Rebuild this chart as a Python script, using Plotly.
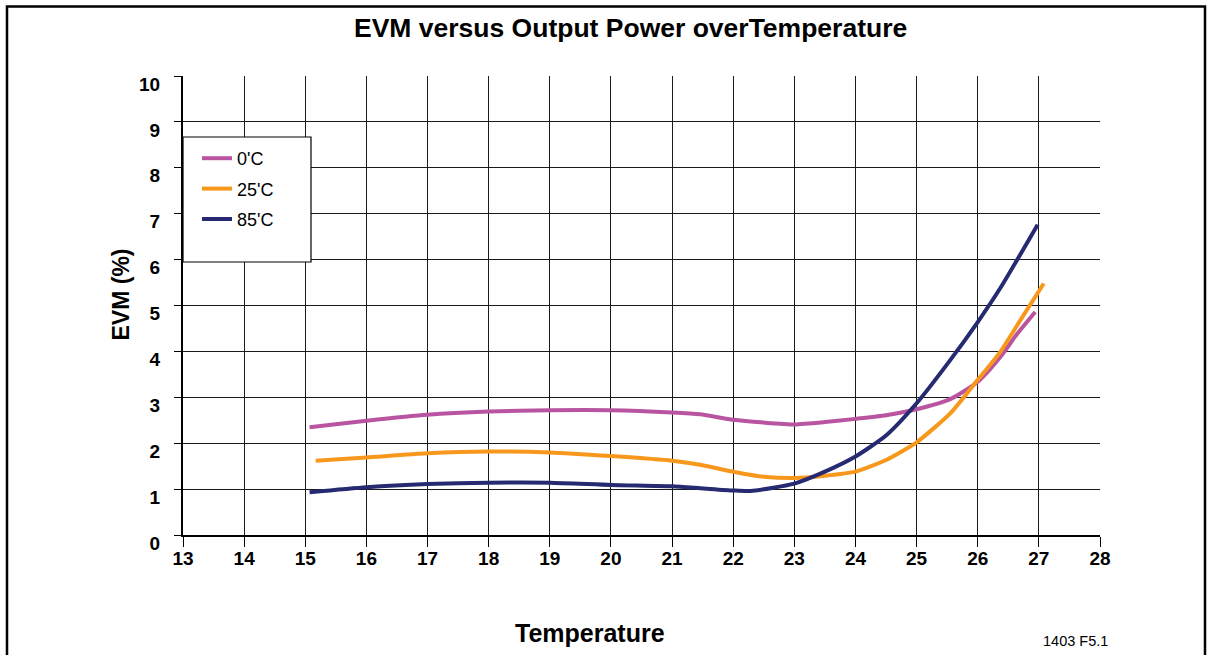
import plotly.graph_objects as go

# ---- data ----
x_0c = [15.07, 16, 17, 18, 19, 20, 21, 21.46, 22, 22.5, 23, 23.5, 24, 24.5, 25, 25.55, 26, 26.37, 26.65, 26.94]
y_0c = [2.35, 2.49, 2.62, 2.69, 2.72, 2.72, 2.67, 2.63, 2.51, 2.45, 2.41, 2.46, 2.53, 2.61, 2.74, 2.96, 3.34, 3.88, 4.39, 4.86]

x_25c = [15.17, 16, 17, 18, 19, 20, 21, 21.46, 22, 22.5, 23, 23.5, 24, 24.51, 25, 25.55, 26, 26.37, 26.67, 27.08]
y_25c = [1.62, 1.69, 1.78, 1.82, 1.80, 1.72, 1.62, 1.53, 1.38, 1.27, 1.24, 1.29, 1.38, 1.64, 2.02, 2.65, 3.38, 3.99, 4.62, 5.48]

x_85c = [15.07, 16, 17, 18, 19, 20, 21, 21.46, 22, 22.28, 23, 23.5, 24, 24.51, 25, 25.55, 26, 26.37, 26.98]
y_85c = [0.93, 1.04, 1.11, 1.14, 1.14, 1.09, 1.06, 1.02, 0.97, 0.96, 1.12, 1.38, 1.71, 2.18, 2.87, 3.81, 4.64, 5.38, 6.76]

series_names = ["0'C", "25'C", "85'C"]
series_colors = ["#B955A0", "#F7981D", "#262A70"]

x_ticks = list(range(13, 29))
y_ticks = list(range(0, 11))

title_text = "EVM versus Output Power overTemperature"
x_title = "Temperature"
y_title = "EVM (%)"
footnote = "1403 F5.1"

FONT = "Liberation Sans, Arial, sans-serif"
NARROW = "Liberation Sans Narrow, Arial Narrow, Liberation Sans, Arial, sans-serif"

fig = go.Figure()
for i, (xs, ys) in enumerate([(x_0c, y_0c), (x_25c, y_25c), (x_85c, y_85c)]):
    fig.add_trace(go.Scatter(
        x=xs, y=ys, mode="lines", name=series_names[i],
        legendgroup=f"g{i}",
        line=dict(color=series_colors[i], width=4, shape="spline", smoothing=0.6),
    ))

# plot area: left 183, right 1100, top 76, bottom 535 (px)
W, H = 1212, 655
L, R, T, B = 183, 1100, 76, 535
pw, ph = R - L, B - T

def px(xp):
    return (xp - L) / pw

def py(yp):
    return (B - yp) / ph

fig.update_layout(
    width=W, height=H,
    margin=dict(l=L, r=W - R, t=T, b=H - B),
    paper_bgcolor="white", plot_bgcolor="white",
    font=dict(family=FONT, color="black"),
    showlegend=True,
    legend=dict(
        x=px(197), y=py(140), xanchor="left", yanchor="top",
        bgcolor="rgba(0,0,0,0)", borderwidth=0,
        font=dict(family=NARROW, size=18, color="black"),
        tracegroupgap=4,
        itemwidth=30,
    ),
)

fig.update_xaxes(
    range=[13, 28], tickvals=x_ticks, ticktext=[str(v) for v in x_ticks],
    showgrid=True, gridcolor="#1a1a1a", gridwidth=1,
    showline=True, linecolor="black", linewidth=2,
    ticks="outside", ticklen=10, tickcolor="black", tickwidth=1,
    tickfont=dict(family=FONT, size=19, color="black", weight="bold"),
    ticklabelstandoff=-5,
    zeroline=False,
)
fig.update_yaxes(
    range=[0, 10], tickvals=y_ticks, ticktext=[str(v) for v in y_ticks],
    showgrid=True, gridcolor="#1a1a1a", gridwidth=1,
    showline=True, linecolor="black", linewidth=2,
    ticks="outside", ticklen=7, tickcolor="black", tickwidth=1,
    tickfont=dict(family=FONT, size=19, color="black", weight="bold"),
    ticklabelstandoff=10, ticklabelshift=8,
    zeroline=False,
)

# legend box and outer frame
fig.add_shape(type="rect", xref="paper", yref="paper",
              x0=px(183), x1=px(311), y0=py(262), y1=py(137),
              line=dict(color="black", width=1.2), fillcolor="white", layer="above")
fig.add_shape(type="rect", xref="paper", yref="paper",
              x0=px(7), x1=px(1205), y0=py(720), y1=py(6.5),
              line=dict(color="black", width=2.5), fillcolor="rgba(0,0,0,0)", layer="above")

annots = [
    dict(text=f"<b>{title_text}</b>", x=px(630.5), y=py(27.5), size=26.5),
    dict(text=f"<b>{x_title}</b>", x=px(590), y=py(633), size=25),
    dict(text=footnote, x=px(1075), y=py(641), size=14.5),
]
for a in annots:
    fig.add_annotation(text=a["text"], xref="paper", yref="paper", x=a["x"], y=a["y"],
                       xanchor="center", yanchor="middle", showarrow=False,
                       font=dict(family=FONT, size=a["size"], color="black"))
fig.add_annotation(text=f"<b>{y_title}</b>", xref="paper", yref="paper",
                   x=px(120.5), y=py(295), xanchor="center", yanchor="middle",
                   textangle=-90, showarrow=False,
                   font=dict(family=FONT, size=23, color="black"))

fig.write_html("out.html", config={"displayModeBar": False},
               post_script="document.body.style.margin='0';")
